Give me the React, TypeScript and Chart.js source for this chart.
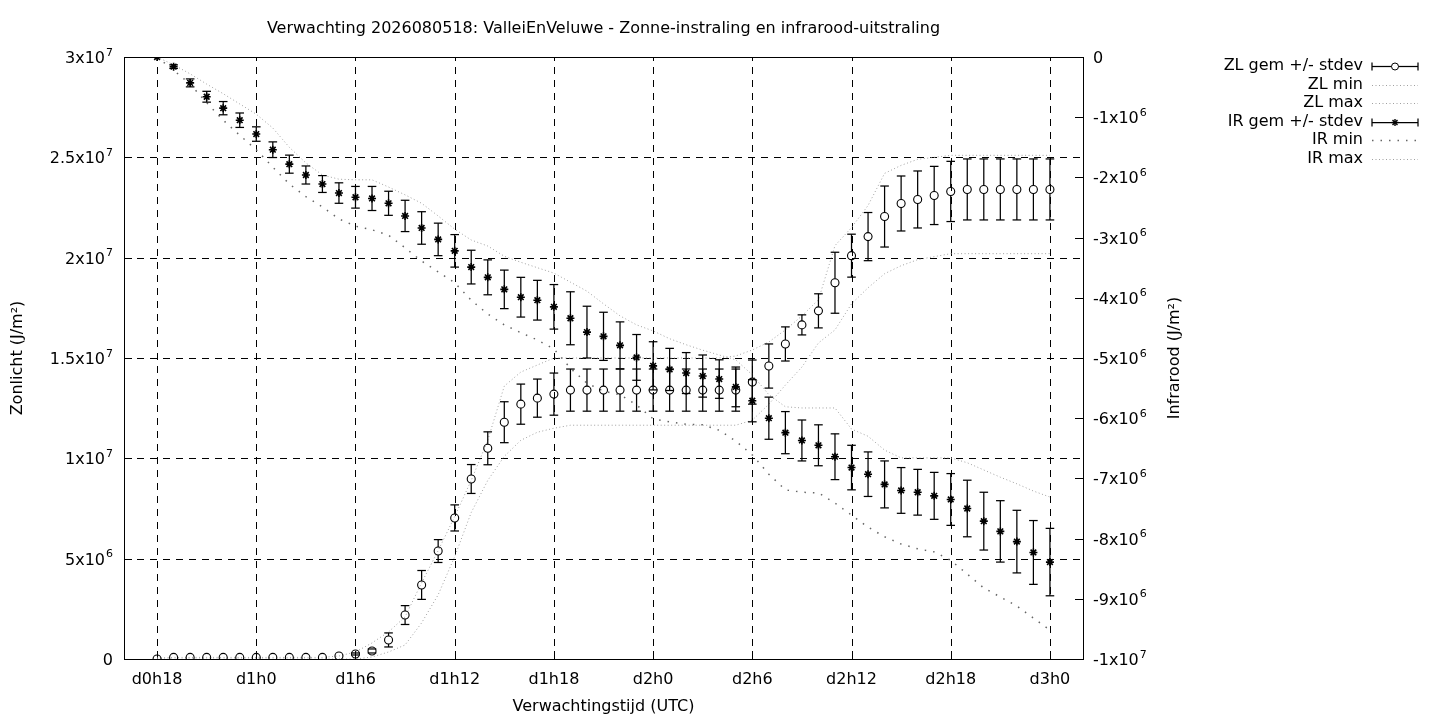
import React, { useEffect, useRef } from "react";
import { Chart, registerables } from "chart.js";

Chart.register(...registerables);

const FONT = "'DejaVu Sans', sans-serif";
const FS = 16; // main font size
const FS_SUP = 11; // exponent font size
const MJ = 1e6; // values below are in 10^6 J/m2

// hours since d0h18
const hours = Array.from({ length: 55 }, (_, i) => i);

const xTickHours = [0, 6, 12, 18, 24, 30, 36, 42, 48, 54];
const xTickLabels = ["d0h18", "d1h0", "d1h6", "d1h12", "d1h18", "d2h0", "d2h6", "d2h12", "d2h18", "d3h0"];

const leftTickValues = [0, 5e6, 1e7, 1.5e7, 2e7, 2.5e7, 3e7];
const leftTickBase = ["0", "5x10", "1x10", "1.5x10", "2x10", "2.5x10", "3x10"];
const leftTickExp = ["", "6", "7", "7", "7", "7", "7"];

const rightTickValues = [0, -1e6, -2e6, -3e6, -4e6, -5e6, -6e6, -7e6, -8e6, -9e6, -1e7];
const rightTickBase = ["0", "-1x10", "-2x10", "-3x10", "-4x10", "-5x10", "-6x10", "-7x10", "-8x10", "-9x10", "-1x10"];
const rightTickExp = ["", "6", "6", "6", "6", "6", "6", "6", "6", "6", "7"];

const legendLabels = ["ZL gem +/- stdev", "ZL min", "ZL max", "IR gem +/- stdev", "IR min", "IR max"];

const titleText = "Verwachting 2026080518: ValleiEnVeluwe - Zonne-instraling en infrarood-uitstraling";
const xTitle = "Verwachtingstijd (UTC)";
const yLeftTitle = "Zonlicht (J/m²)";
const yRightTitle = "Infrarood (J/m²)";

// Zonlicht (sunlight), 10^6 J/m2
const zlMean = [
  0, 0.08, 0.08, 0.08, 0.08, 0.08, 0.08, 0.08, 0.08, 0.08,
  0.08, 0.15, 0.25, 0.4, 0.95, 2.19, 3.69, 5.38, 7.03, 8.97,
  10.5, 11.8, 12.7, 13.0, 13.2, 13.4, 13.4, 13.4, 13.4, 13.4,
  13.4, 13.4, 13.4, 13.4, 13.4, 13.4, 13.8, 14.6, 15.7, 16.65,
  17.35, 18.75, 20.1, 21.05, 22.05, 22.7, 22.9, 23.1, 23.3, 23.4,
  23.4, 23.4, 23.4, 23.4, 23.4,
];
const zlSd = [
  0, 0, 0, 0, 0, 0, 0, 0, 0, 0,
  0, 0, 0.05, 0.1, 0.35, 0.47, 0.72, 0.57, 0.65, 0.72,
  0.82, 1.02, 1.0, 0.95, 1.05, 1.05, 1.05, 1.05, 1.05, 1.05,
  1.05, 1.05, 1.05, 1.05, 1.05, 1.05, 1.1, 1.1, 0.85, 0.5,
  0.85, 1.52, 1.07, 1.2, 1.52, 1.37, 1.42, 1.45, 1.5, 1.52,
  1.52, 1.52, 1.52, 1.52, 1.52,
];
const zlMin = [
  0, 0, 0, 0, 0, 0, 0, 0, 0, 0,
  0, 0, 0, 0.1, 0.35, 0.7, 1.8, 3.2, 5.1, 7.3,
  8.9, 10.1, 10.9, 11.3, 11.5, 11.65, 11.65, 11.65, 11.65, 11.65,
  11.65, 11.65, 11.65, 11.65, 11.65, 11.65, 11.9, 12.7, 13.65, 14.55,
  15.75, 16.4, 17.7, 18.5, 19.2, 19.6, 19.9, 20.05, 20.2, 20.2,
  20.2, 20.2, 20.2, 20.2, 20.2,
];
const zlMax = [
  0.05, 0.08, 0.08, 0.08, 0.08, 0.08, 0.08, 0.08, 0.08, 0.08,
  0.08, 0.15, 0.35, 0.8, 1.35, 2.1, 3.8, 5.4, 7.1, 8.9,
  10.9, 13.6, 14.3, 14.65, 15.0, 15.0, 15.0, 15.0, 15.0, 15.0,
  15.0, 15.0, 15.0, 15.0, 15.0, 15.1, 15.4, 15.8, 16.4, 17.1,
  17.9, 20.6, 21.5, 22.6, 24.2, 24.6, 24.9, 25.0, 25.1, 25.1,
  25.1, 25.1, 25.1, 25.1, 25.1,
];

// Infrarood (infrared), 10^6 J/m2
const irMean = [
  0, -0.16, -0.43, -0.66, -0.85, -1.05, -1.28, -1.54, -1.78, -1.96,
  -2.11, -2.26, -2.33, -2.35, -2.43, -2.64, -2.84, -3.03, -3.22, -3.49,
  -3.66, -3.86, -3.99, -4.04, -4.15, -4.34, -4.57, -4.64, -4.79, -4.99,
  -5.13, -5.19, -5.25, -5.3, -5.35, -5.48, -5.71, -6.0, -6.24, -6.37,
  -6.45, -6.64, -6.82, -6.93, -7.1, -7.2, -7.23, -7.29, -7.35, -7.5,
  -7.71, -7.88, -8.05, -8.23, -8.39,
];
const irSd = [
  0, 0.03, 0.066, 0.09, 0.11, 0.12, 0.12, 0.13, 0.15, 0.15,
  0.14, 0.17, 0.18, 0.2, 0.2, 0.26, 0.27, 0.27, 0.27, 0.28,
  0.29, 0.32, 0.33, 0.33, 0.37, 0.44, 0.43, 0.4, 0.39, 0.38,
  0.4, 0.35, 0.34, 0.35, 0.32, 0.33, 0.35, 0.35, 0.35, 0.34,
  0.34, 0.38, 0.37, 0.37, 0.39, 0.38, 0.38, 0.39, 0.43, 0.47,
  0.48, 0.51, 0.52, 0.53, 0.56,
];
const irMin = [
  0, -0.22, -0.45, -0.76, -1.05, -1.3, -1.54, -1.83, -2.11, -2.32,
  -2.49, -2.69, -2.81, -2.87, -2.96, -3.17, -3.39, -3.57, -3.75, -4.04,
  -4.27, -4.45, -4.58, -4.7, -4.85, -5.17, -5.42, -5.55, -5.61, -5.78,
  -6.01, -6.06, -6.1, -6.11, -6.2, -6.38, -6.61, -6.93, -7.19, -7.23,
  -7.24, -7.41, -7.61, -7.81, -7.97, -8.09, -8.17, -8.22, -8.36, -8.59,
  -8.82, -8.97, -9.12, -9.32, -9.52,
];
const irMax = [
  0, -0.13, -0.28, -0.45, -0.61, -0.78, -0.95, -1.18, -1.5, -1.76,
  -1.96, -2.03, -2.04, -2.04, -2.16, -2.29, -2.43, -2.64, -2.86, -3.04,
  -3.14, -3.31, -3.41, -3.5, -3.59, -3.74, -3.89, -4.1, -4.3, -4.45,
  -4.55, -4.68, -4.78, -4.87, -4.95, -5.03, -5.28, -5.61, -5.81, -5.83,
  -5.83, -5.83, -6.18, -6.3, -6.53, -6.66, -6.66, -6.66, -6.66, -6.74,
  -6.86, -6.98, -7.09, -7.21, -7.31,
];

const toPts = (arr: number[]) => hours.map((h, i) => ({ x: h, y: arr[i] * MJ }));

const ZL_DOT = [1, 2.5];
const IR_MIN_DOT = [1.5, 7];
const LIGHT = "#a0a0a0";
const DARK = "#666666";
const CIRCLE_R = 4;
const STAR_R = 4;
const CAP = 4.3;

function seg(ctx: CanvasRenderingContext2D, x1: number, y1: number, x2: number, y2: number) {
  ctx.beginPath();
  ctx.moveTo(x1, y1);
  ctx.lineTo(x2, y2);
  ctx.stroke();
}

function drawErrorBars(ctx: CanvasRenderingContext2D, xs: any, ys: any, mean: number[], sd: number[], gap: number) {
  ctx.save();
  ctx.strokeStyle = "#000";
  ctx.lineWidth = 1.25;
  ctx.setLineDash([]);
  hours.forEach((h, i) => {
    if (!(sd[i] > 0)) return;
    const px = xs.getPixelForValue(h);
    const top = ys.getPixelForValue((mean[i] + sd[i]) * MJ);
    const bot = ys.getPixelForValue((mean[i] - sd[i]) * MJ);
    const c = ys.getPixelForValue(mean[i] * MJ);
    if (gap > 0) {
      if (c - gap > top) seg(ctx, px, top, px, c - gap);
      if (c + gap < bot) seg(ctx, px, c + gap, px, bot);
    } else {
      seg(ctx, px, top, px, bot);
    }
    seg(ctx, px - CAP, top, px + CAP, top);
    seg(ctx, px - CAP, bot, px + CAP, bot);
  });
  ctx.restore();
}

function drawStar(ctx: CanvasRenderingContext2D, x: number, y: number, r: number) {
  seg(ctx, x - r, y, x + r, y);
  seg(ctx, x, y - r, x, y + r);
  const d = r * Math.SQRT1_2;
  seg(ctx, x - d, y - d, x + d, y + d);
  seg(ctx, x - d, y + d, x + d, y - d);
}

// draws "base" + raised exponent; align: "right" (ends at x) or "left" (starts at x)
function drawPow(ctx: CanvasRenderingContext2D, base: string, exp: string, x: number, yMid: number, align: "left" | "right") {
  ctx.save();
  ctx.textAlign = "left";
  ctx.textBaseline = "alphabetic";
  ctx.font = `${FS}px ${FONT}`;
  const wb = ctx.measureText(base).width;
  ctx.font = `${FS_SUP}px ${FONT}`;
  const we = exp ? ctx.measureText(exp).width + 1 : 0;
  const x0 = align === "right" ? x - wb - we : x;
  const baseline = yMid + 6;
  ctx.font = `${FS}px ${FONT}`;
  ctx.fillText(base, x0, baseline);
  if (exp) {
    ctx.font = `${FS_SUP}px ${FONT}`;
    ctx.fillText(exp, x0 + wb + 1, baseline - 7.5);
  }
  ctx.restore();
}

const decorPlugin = {
  id: "gnuplotDecor",
  beforeDatasetsDraw(chart: any) {
    const { ctx, chartArea: a, scales } = chart;
    const xs = scales.x;
    const yl = scales.y;
    const yr = scales.y2;
    ctx.save();
    ctx.strokeStyle = "#000";
    ctx.lineWidth = 1;
    ctx.setLineDash([7, 6]);
    xTickHours.forEach((h) => {
      const px = Math.round(xs.getPixelForValue(h)) + 0.5;
      seg(ctx, px, a.bottom, px, a.top);
    });
    leftTickValues.forEach((v) => {
      const py = Math.round(yl.getPixelForValue(v)) + 0.5;
      seg(ctx, a.left, py, a.right, py);
    });
    ctx.setLineDash([]);
    // inward tick marks
    xTickHours.forEach((h) => {
      const px = Math.round(xs.getPixelForValue(h)) + 0.5;
      seg(ctx, px, a.bottom, px, a.bottom - 8);
    });
    leftTickValues.forEach((v) => {
      const py = Math.round(yl.getPixelForValue(v)) + 0.5;
      seg(ctx, a.left, py, a.left + 8, py);
    });
    rightTickValues.forEach((v) => {
      const py = Math.round(yr.getPixelForValue(v)) + 0.5;
      seg(ctx, a.right - 8, py, a.right, py);
    });
    ctx.strokeRect(Math.round(a.left) + 0.5, Math.round(a.top) + 0.5, Math.round(a.right - a.left), Math.round(a.bottom - a.top));
    ctx.restore();

    // y tick labels with superscript exponents
    ctx.save();
    ctx.fillStyle = "#000";
    leftTickValues.forEach((v, i) => {
      drawPow(ctx, leftTickBase[i], leftTickExp[i], a.left - 11, yl.getPixelForValue(v), "right");
    });
    rightTickValues.forEach((v, i) => {
      drawPow(ctx, rightTickBase[i], rightTickExp[i], a.right + 10, yr.getPixelForValue(v), "left");
    });
    ctx.restore();
  },
  afterDatasetsDraw(chart: any) {
    const { ctx, scales } = chart;
    drawErrorBars(ctx, scales.x, scales.y, zlMean, zlSd, CIRCLE_R);
    drawErrorBars(ctx, scales.x, scales.y2, irMean, irSd, 0);
  },
  afterDraw(chart: any) {
    const { ctx, chartArea: a } = chart;
    const cx = (a.left + a.right) / 2;
    const cy = (a.top + a.bottom) / 2;
    ctx.save();
    ctx.fillStyle = "#000";
    ctx.font = `${FS}px ${FONT}`;
    ctx.textAlign = "center";
    ctx.textBaseline = "middle";
    ctx.fillText(titleText, cx, 29);
    ctx.fillText(xTitle, cx, 707);
    ctx.save();
    ctx.translate(18, cy);
    ctx.rotate(-Math.PI / 2);
    ctx.fillText(yLeftTitle, 0, 0);
    ctx.restore();
    ctx.save();
    ctx.translate(1175, cy);
    ctx.rotate(-Math.PI / 2);
    ctx.fillText(yRightTitle, 0, 0);
    ctx.restore();

    // legend
    const rows = [66, 84.5, 103, 121.5, 140, 158.5];
    const tx = 1363;
    const sx1 = 1372;
    const sx2 = 1418;
    const sm = (sx1 + sx2) / 2;
    ctx.textAlign = "right";
    legendLabels.forEach((lab, i) => {
      const y = rows[i];
      ctx.fillStyle = "#000";
      ctx.fillText(lab, tx, y);
      const py = Math.round(y) + 0.5;
      if (i === 0 || i === 3) {
        ctx.strokeStyle = "#000";
        ctx.lineWidth = 1.25;
        ctx.setLineDash([]);
        if (i === 0) {
          seg(ctx, sx1, py, sm - 3.5, py);
          seg(ctx, sm + 3.5, py, sx2, py);
          ctx.lineWidth = 1;
          ctx.beginPath();
          ctx.arc(sm, py, 3.5, 0, Math.PI * 2);
          ctx.stroke();
        } else {
          seg(ctx, sx1, py, sx2, py);
          ctx.lineWidth = 1.4;
          drawStar(ctx, sm, py, 3.5);
        }
        ctx.lineWidth = 1.25;
        seg(ctx, sx1, py - 4, sx1, py + 4);
        seg(ctx, sx2, py - 4, sx2, py + 4);
      } else {
        const isIrMin = i === 4;
        ctx.strokeStyle = isIrMin ? DARK : LIGHT;
        ctx.lineWidth = isIrMin ? 1.5 : 1;
        ctx.setLineDash(isIrMin ? IR_MIN_DOT : ZL_DOT);
        seg(ctx, sx1, py, sx2, py);
      }
    });
    ctx.restore();
  },
};

const lineDs = (label: string, arr: number[], axis: string, color: string, dash: number[], width: number) => ({
  label,
  data: toPts(arr),
  yAxisID: axis,
  showLine: true,
  borderColor: color,
  borderWidth: width,
  borderDash: dash,
  pointRadius: 0,
  fill: false,
  tension: 0,
});

export default function App() {
  const ref = useRef<HTMLCanvasElement>(null);
  useEffect(() => {
    if (!ref.current) return;
    Chart.defaults.font.family = FONT;
    const chart = new Chart(ref.current, {
      type: "line",
      data: {
        datasets: [
          {
            label: legendLabels[0],
            data: toPts(zlMean),
            yAxisID: "y",
            showLine: false,
            pointStyle: "circle",
            pointRadius: CIRCLE_R,
            pointBorderColor: "#000",
            pointBackgroundColor: "rgba(0,0,0,0)",
            pointBorderWidth: 1.1,
          },
          lineDs(legendLabels[1], zlMin, "y", LIGHT, ZL_DOT, 1),
          lineDs(legendLabels[2], zlMax, "y", LIGHT, ZL_DOT, 1),
          {
            label: legendLabels[3],
            data: toPts(irMean),
            yAxisID: "y2",
            showLine: false,
            pointStyle: "star",
            pointRadius: STAR_R,
            pointBorderColor: "#000",
            pointBackgroundColor: "#000",
            pointBorderWidth: 1.6,
          },
          lineDs(legendLabels[4], irMin, "y2", DARK, IR_MIN_DOT, 1.5),
          lineDs(legendLabels[5], irMax, "y2", LIGHT, ZL_DOT, 1),
        ] as any,
      },
      options: {
        responsive: false,
        animation: false,
        devicePixelRatio: 1,
        layout: { padding: { top: 57, left: 0, right: 0, bottom: 0 } },
        plugins: {
          legend: { display: false },
          title: { display: false },
          tooltip: { enabled: false },
        },
        scales: {
          x: {
            type: "linear",
            min: -2,
            max: 56,
            afterBuildTicks: (s: any) => {
              s.ticks = xTickHours.map((v) => ({ value: v }));
            },
            afterFit: (s: any) => {
              s.height = 61;
            },
            grid: { display: false, drawTicks: false },
            border: { display: false },
            ticks: {
              autoSkip: false,
              maxRotation: 0,
              minRotation: 0,
              padding: 11,
              color: "#000",
              font: { size: FS, family: FONT },
              callback: (v: any) => {
                const k = xTickHours.indexOf(Number(v));
                return k >= 0 ? xTickLabels[k] : "";
              },
            },
          },
          y: {
            type: "linear",
            position: "left",
            min: 0,
            max: 3e7,
            afterBuildTicks: (s: any) => {
              s.ticks = leftTickValues.map((v) => ({ value: v }));
            },
            afterFit: (s: any) => {
              s.width = 124;
            },
            grid: { display: false, drawTicks: false },
            border: { display: false },
            ticks: { display: false },
          },
          y2: {
            type: "linear",
            position: "right",
            min: -1e7,
            max: 0,
            afterBuildTicks: (s: any) => {
              s.ticks = rightTickValues.map((v) => ({ value: v }));
            },
            afterFit: (s: any) => {
              s.width = 357;
            },
            grid: { display: false, drawTicks: false },
            border: { display: false },
            ticks: { display: false },
          },
        },
      } as any,
      plugins: [decorPlugin],
    });
    return () => chart.destroy();
  }, []);
  return (
    <div style={{ position: "absolute", left: 0, top: 0, width: 1440, height: 720, background: "#fff" }}>
      <canvas ref={ref} width={1440} height={720} style={{ display: "block", width: 1440, height: 720 }} />
    </div>
  );
}
